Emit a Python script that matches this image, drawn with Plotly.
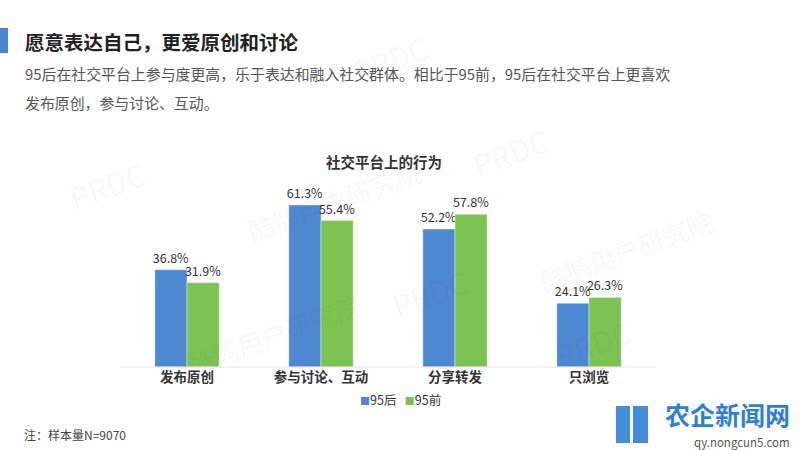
import plotly.graph_objects as go

categories = ["发布原创", "参与讨论、互动", "分享转发", "只浏览"]
after95 = [36.8, 61.3, 52.2, 24.1]
before95 = [31.9, 55.4, 57.8, 26.3]
series_names = ["95后", "95前"]
colors = ["#4F88D2", "#7DC353"]

FONT = "Noto Sans CJK SC"
W, H = 800, 450

def px(x):
    return x / W

def py(y):
    return 1 - y / H

fig = go.Figure()
for name, vals, col in zip(series_names, [after95, before95], colors):
    fig.add_trace(go.Bar(
        x=categories, y=vals, name=name,
        marker_color=col,
        text=[f"{v:.1f}%" for v in vals], textposition="outside",
        constraintext="none",
        textfont=dict(size=12.5, color="#333333", family=FONT),
        cliponaxis=False,
    ))

fig.update_layout(
    width=W, height=H,
    margin=dict(l=0, r=0, t=0, b=0),
    paper_bgcolor="white", plot_bgcolor="rgba(0,0,0,0)",
    barmode="group", bargap=0.52, bargroupgap=0,
    font=dict(family=FONT, color="#333333"),
    showlegend=False,
    xaxis=dict(domain=[px(120), px(656)], showgrid=False, showline=False,
               ticks="", tickmode="array", tickvals=categories,
               ticktext=[f"<b>{c}</b>" for c in categories],
               tickfont=dict(size=13.5, color="#333333", family=FONT),
               automargin=False, fixedrange=True),
    yaxis=dict(domain=[py(367), py(182)], range=[0, 70], visible=False,
               showgrid=False, fixedrange=True),
)

# baseline
fig.add_shape(type="line", xref="paper", yref="paper",
              x0=px(120), x1=px(656), y0=py(367), y1=py(367),
              line=dict(color="#e6e6e6", width=1))

# legend drawn as text
legend_text = "   ".join(
    f"<span style='color:{c};font-size:10px'>■</span>{n}" for n, c in zip(series_names, colors))
fig.add_annotation(text=legend_text, x=px(400), y=py(399), xref="paper", yref="paper",
                   xanchor="center", yanchor="middle", showarrow=False,
                   font=dict(size=12.5, color="#333333", family=FONT))

anns = [
    dict(text="<b>愿意表达自己，更爱原创和讨论</b>", x=px(23), y=py(41), size=19.5, color="#222222"),
    dict(text="95后在社交平台上参与度更高，乐于表达和融入社交群体。相比于95前，95后在社交平台上更喜欢",
         x=px(23), y=py(74), size=14.9, color="#555555"),
    dict(text="发布原创，参与讨论、互动。", x=px(23), y=py(102), size=14.9, color="#555555"),
    dict(text="注：样本量N=9070", x=px(22), y=py(434), size=12, color="#444444"),
]
for a in anns:
    fig.add_annotation(text=a["text"], x=a["x"], y=a["y"], xref="paper", yref="paper",
                       xanchor="left", yanchor="middle", showarrow=False,
                       font=dict(size=a["size"], color=a["color"], family=FONT))

fig.add_annotation(text="<b>社交平台上的行为</b>", x=px(384), y=py(161), xref="paper", yref="paper",
                   xanchor="center", yanchor="middle", showarrow=False,
                   font=dict(size=14.5, color="#333333", family=FONT))

# header accent bar
fig.add_shape(type="rect", xref="paper", yref="paper",
              x0=0, x1=px(8), y0=py(53), y1=py(28),
              fillcolor="#4A86D0", line=dict(width=0))

# faint watermarks
wm = [
    ("PRDC", 390, 22, 30), ("PRDC", 510, 115, 30), ("PRDC", 60, 185, 30),
    ("PRDC", 430, 330, 30), ("PRDC", 640, 380, 30),
    ("酷鹅用户研究院", 240, 200, 26), ("酷鹅用户研究院", 720, 250, 26),
    ("酷鹅用户研究院", 180, 385, 26),
]
for t, x, y, s in wm:
    fig.add_annotation(text=t, x=px(x), y=py(y), xref="paper", yref="paper",
                       showarrow=False, textangle=-20,
                       font=dict(size=s, color="rgba(0,0,0,0.04)", family=FONT))

# bottom-right logo
fig.add_shape(type="rect", xref="paper", yref="paper",
              x0=px(616), x1=px(630), y0=py(443), y1=py(406),
              fillcolor="#2F7FD8", line=dict(width=0), opacity=0.9)
fig.add_shape(type="rect", xref="paper", yref="paper",
              x0=px(633), x1=px(648), y0=py(443), y1=py(406),
              fillcolor="#2F7FD8", line=dict(width=0), opacity=0.9)
fig.add_annotation(text="<b>农企新闻网</b>", x=px(792), y=py(414), xref="paper", yref="paper",
                   xanchor="right", yanchor="middle", showarrow=False,
                   font=dict(size=25, color="#2F7FD8", family=FONT))
fig.add_annotation(text="qy.nongcun5.com", x=px(792), y=py(442), xref="paper", yref="paper",
                   xanchor="right", yanchor="middle", showarrow=False,
                   font=dict(size=11.5, color="#555555", family=FONT))

fig.write_html("out.html", config={"displayModeBar": False},
               post_script="document.body.style.margin='0';")
